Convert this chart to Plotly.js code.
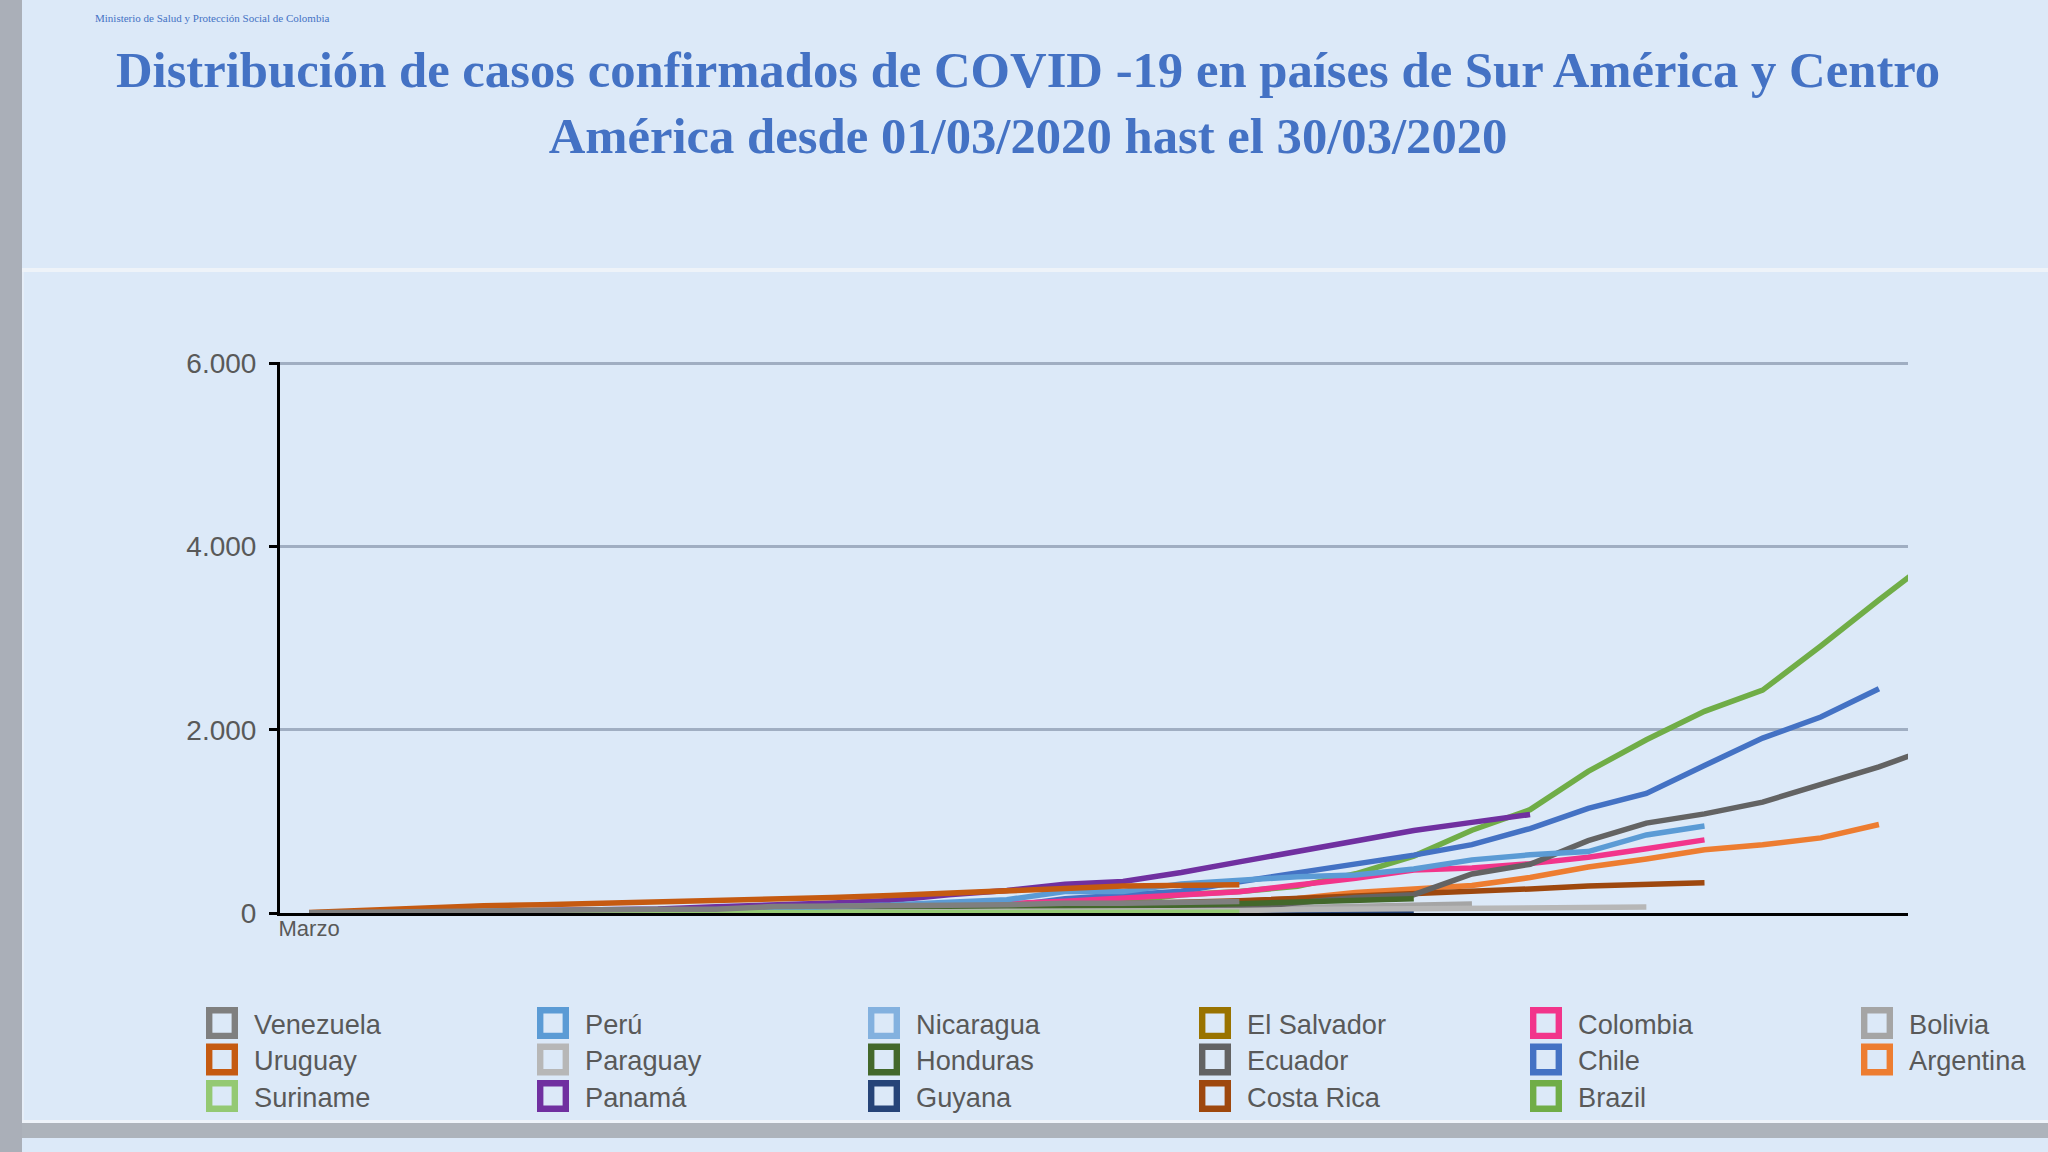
<!DOCTYPE html>
<html>
<head>
<meta charset="utf-8">
<script src="https://cdn.plot.ly/plotly-3.0.1.min.js"></script>
<style>
  html, body { margin: 0; padding: 0; background: #DCE9F8; }
  #wrap { position: relative; width: 2048px; height: 1152px; overflow: hidden; background: #DCE9F8; }
  .deco { position: absolute; }
  #chart { position: absolute; left: 0; top: 0; width: 2048px; height: 1152px; }
</style>
</head>
<body>
<div id="wrap">
  <div class="deco" style="left:0;top:0;width:22px;height:1152px;background:#AAAFB8;"></div>
  <div class="deco" style="left:22px;top:268px;width:2026px;height:4px;background:#EEF3F9;"></div>
  <div class="deco" style="left:22px;top:272px;width:2px;height:848px;background:#E6EEF8;"></div>
  <div class="deco" style="left:22px;top:1120px;width:2026px;height:3px;background:#EEF3F9;"></div>
  <div class="deco" style="left:22px;top:1123px;width:2026px;height:15px;background:#ADB3BB;"></div>
  <div id="chart"></div>
</div>
<script>
// ---- data (cases per day index, each series starting at its first point) ----
const days = [0,1,2,3,4,5,6,7,8,9,10,11,12,13,14,15,16,17,18,19,20,21,22,23,24,25,26,27,28];
const xTickVals = [0];
const xTickLabels = ['Marzo'];
const yTickVals = [0, 2000, 4000, 6000];

const argentina = [1,1,2,8,9,12,17,19,21,31,34,45,56,65,79,97,128,158,225,266,301,387,502,589,690,745,820,966];
const bolivia   = [2,2,3,10,10,10,11,11,12,12,15,19,24,27,29,32,43,61,74,81,97];
const brazil    = [2,2,2,2,3,8,13,19,25,25,34,52,77,98,121,200,234,291,428,621,904,1128,1546,1891,2201,2433,2915,3417,3904];
const chile     = [1,3,4,5,7,10,13,17,23,33,43,61,75,155,201,238,342,434,537,632,746,922,1142,1306,1610,1909,2139,2449];
const colombia  = [1,1,1,3,3,9,9,16,24,45,57,75,102,128,158,196,231,306,378,470,491,539,608,702,798];
const costaRica = [1,5,9,9,13,22,23,26,27,35,41,50,69,87,113,117,134,158,177,201,231,263,295,314,330];
const ecuador   = [1,6,7,7,10,13,13,13,14,15,15,17,17,23,28,37,58,111,168,200,426,532,789,981,1082,1211,1403,1595,1823];
const elSalvador= [1,1,1,3,3,5,9,13,13,19,24,30,32];
const guyana    = [1,1,1,1,1,1,4,4,5,5,5,5,5,5,5,5,8,8,8,8];
const honduras  = [2,2,3,3,6,8,9,12,24,26,30,30,36,52,68,95,110,125,141,155];
const nicaragua = [1,1,1,2,2,2,2,2,2,4,4,4,5];
const panama    = [1,1,8,14,27,36,43,69,86,109,137,200,245,313,345,443,558,674,786,901,989,1075];
const paraguay  = [1,1,1,5,5,6,6,7,8,9,11,13,18,18,22,22,27,37,41,52,56,59,64,65];
const peru      = [1,6,7,9,11,17,22,38,43,71,86,117,145,234,234,318,363,395,416,480,580,635,671,852,950];
const suriname  = [1,1,1,1,1,1,4,4,5,5,7,8,8,8,8,8,8];
const uruguay   = [6,30,60,80,90,104,118,135,155,170,190,212,240,268,295,305,308];
const venezuela = [2,10,17,33,36,36,42,42,70,70,77,84,91,107,107,119,125];

// drawing order (later on top)
const seriesNames = ['Argentina','Bolivia','Brazil','Chile','Colombia','Costa Rica','Ecuador','El Salvador','Guyana','Honduras','Nicaragua','Panamá','Paraguay','Perú','Suriname','Uruguay','Venezuela'];
const seriesValues = [argentina,bolivia,brazil,chile,colombia,costaRica,ecuador,elSalvador,guyana,honduras,nicaragua,panama,paraguay,peru,suriname,uruguay,venezuela];
const seriesColors = ['#ED7D31','#A5A5A5','#70AD47','#4472C4','#F2358B','#9E480E','#636363','#997300','#264478','#43682B','#83B1DF','#7030A0','#B7B7B7','#5B9BD5','#94C973','#C55A11','#7F7F7F'];

// legend rows as shown under the chart
const legendRows = [
  ['Venezuela','Perú','Nicaragua','El Salvador','Colombia','Bolivia'],
  ['Uruguay','Paraguay','Honduras','Ecuador','Chile','Argentina'],
  ['Suriname','Panamá','Guyana','Costa Rica','Brazil']
];

// ---- layout geometry ----
const W = 2048, H = 1152;
const M = {l: 280, r: 140, t: 362, b: 239};
const PW = W - M.l - M.r, PH = H - M.t - M.b;
const px2x = px => (px - M.l) / PW;
const px2y = py => (H - M.b - py) / PH;
const LEG_SCALE = 1.6;
const legendLeftPx = 190;
const legendTopsPx = [995, 1031.4, 1067.9];
const legendIds = ['legend','legend2','legend3'];

const textGray = '#595959';
const sans = 'Liberation Sans, Arial, sans-serif';

const traces = [];
seriesNames.forEach((name, k) => {
  const vals = seriesValues[k];
  traces.push({
    type: 'scatter', mode: 'lines', name: name,
    x: days.slice(0, vals.length), y: vals,
    line: {color: seriesColors[k], width: 5.5},
    legendgroup: name, showlegend: false, hoverinfo: 'skip'
  });
});
legendRows.forEach((row, r) => {
  row.forEach(name => {
    const k = seriesNames.indexOf(name);
    traces.push({
      type: 'scatter', mode: 'markers', name: name,
      x: [null], y: [null],
      marker: {symbol: 'square-open', size: 16, color: seriesColors[k], line: {width: 4, color: seriesColors[k]}},
      legendgroup: name, showlegend: true, legend: legendIds[r]
    });
  });
});

const legendBase = (r) => ({
  orientation: 'h', x: px2x(legendLeftPx), xanchor: 'left',
  y: px2y(legendTopsPx[r]), yanchor: 'top',
  bgcolor: 'rgba(0,0,0,0)', borderwidth: 0,
  entrywidth: 331 / LEG_SCALE - 45, entrywidthmode: 'pixels',
  font: {family: sans, size: 17, color: textGray},
  traceorder: 'normal'
});

const layout = {
  width: W, height: H,
  margin: {l: M.l, r: M.r, t: M.t, b: M.b, pad: 0, autoexpand: false},
  paper_bgcolor: 'rgba(0,0,0,0)', plot_bgcolor: 'rgba(0,0,0,0)',
  separators: ',.',
  title: {
    text: 'Distribución de casos confirmados de COVID -19 en países de Sur América y Centro<br>América desde 01/03/2020 hast el 30/03/2020',
    font: {family: 'Liberation Serif, Times New Roman, serif', size: 50.7, weight: 'bold', color: '#4472C4'},
    xref: 'container', x: 0.502, xanchor: 'center',
    yref: 'container', y: 1 - 87 / H, yanchor: 'top'
  },
  xaxis: {
    range: [-0.5, 27.5], showgrid: false, zeroline: false,
    showline: true, linecolor: '#000000', linewidth: 3,
    tickmode: 'array', tickvals: xTickVals, ticktext: xTickLabels,
    ticks: '', ticklabelstandoff: -6,
    tickfont: {family: sans, size: 22, color: textGray}
  },
  yaxis: {
    range: [0, 6015], tickmode: 'array', tickvals: yTickVals, tickformat: ',',
    showgrid: true, gridcolor: '#A0AEC2', gridwidth: 3, zeroline: false,
    showline: true, linecolor: '#000000', linewidth: 3,
    ticks: 'outside', ticklen: 8, tickwidth: 3, tickcolor: '#000000',
    ticklabelstandoff: 7,
    tickfont: {family: sans, size: 28, color: textGray}
  },
  legend: legendBase(0), legend2: legendBase(1), legend3: legendBase(2),
  annotations: [{
    text: 'Ministerio de Salud y Protección Social de Colombia',
    xref: 'paper', yref: 'paper', x: px2x(93), y: px2y(18), xanchor: 'left', yanchor: 'middle',
    showarrow: false, font: {family: 'Liberation Serif, Times New Roman, serif', size: 11, color: '#4472C4'}
  }],
  showlegend: true
};

Plotly.newPlot('chart', traces, layout, {staticPlot: true, displayModeBar: false}).then(gd => {
  gd.querySelectorAll('g.infolayer > g').forEach(g => {
    const cls = g.getAttribute('class') || '';
    if (/^legend\d*$/.test(cls)) {
      const t = g.getAttribute('transform') || '';
      g.setAttribute('transform', t + ' scale(' + LEG_SCALE + ')');
    }
  });
});
</script>
</body>
</html>
